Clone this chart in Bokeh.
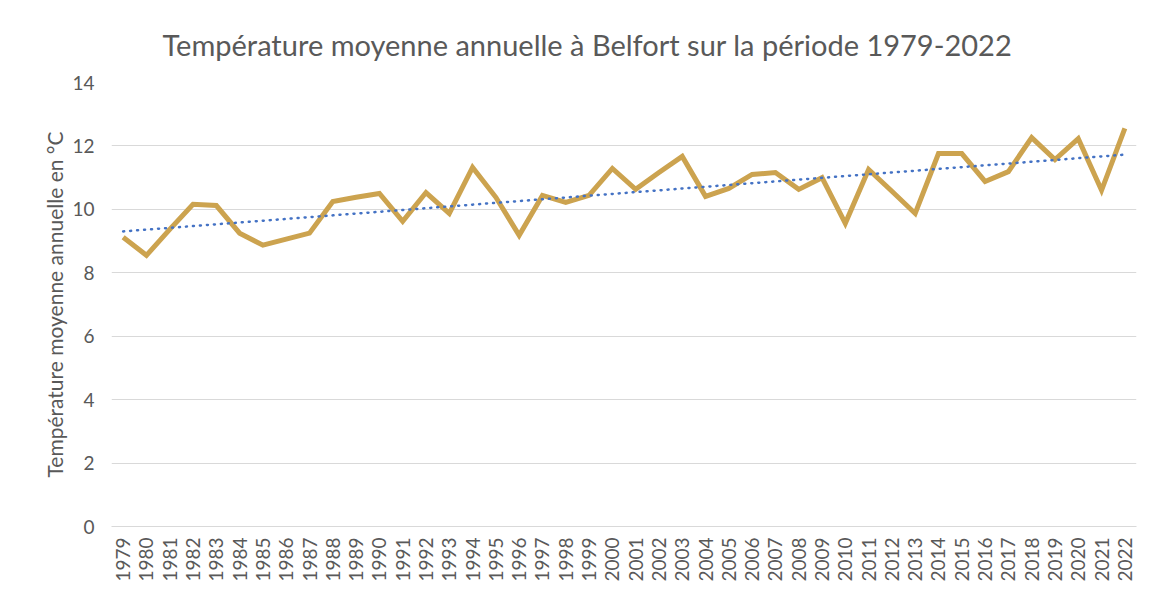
import math
import numpy as np
from bokeh.plotting import figure
from bokeh.models import FactorRange, Range1d, SingleIntervalTicker, ColumnDataSource
from bokeh.embed import file_html
from bokeh.resources import INLINE

years = [str(y) for y in range(1979, 2023)]
temps = [9.12, 8.55, 9.37, 10.16, 10.12, 9.25, 8.87, 9.06, 9.25, 10.25,
         10.38, 10.50, 9.62, 10.53, 9.87, 11.32, 10.38, 9.18, 10.44, 10.22,
         10.44, 11.29, 10.63, 11.16, 11.67, 10.41, 10.66, 11.10, 11.16, 10.63,
         11.00, 9.56, 11.26, 10.57, 9.87, 11.76, 11.76, 10.88, 11.19, 12.26,
         11.57, 12.23, 10.60, 12.55]

title_text = "Température moyenne annuelle à Belfort sur la période 1979-2022"
y_label = "Température moyenne annuelle en °C"

# linear trend (least squares, like Excel's linear trendline)
idx = np.arange(len(temps))
a, b = np.polyfit(idx, temps, 1)
trend = list(a * idx + b)

src = ColumnDataSource(dict(x=years, t=temps, tr=trend))

FONT = "Lato"
GREY = "#595959"

p = figure(width=1159, height=584, x_range=FactorRange(factors=years),
           y_range=Range1d(0, 14), output_backend="svg", toolbar_location=None,
           min_border_left=111, min_border_right=23, min_border_top=82,
           min_border_bottom=58)

p.title.text = title_text
p.title.align = "left"
p.title.text_font = FONT
p.title.text_font_size = "29px"
p.title.text_font_style = "normal"
p.title.text_color = GREY
p.title.offset = 51
p.title.standoff = 41

p.outline_line_color = None
p.xgrid.grid_line_color = None
p.ygrid.grid_line_color = "#d9d9d9"
p.ygrid.grid_line_width = 1.2

p.yaxis.ticker = SingleIntervalTicker(interval=2)
p.yaxis.axis_line_color = None
p.yaxis.major_tick_line_color = None
p.yaxis.minor_tick_line_color = None
p.yaxis.major_label_text_font = FONT
p.yaxis.major_label_text_font_size = "19px"
p.yaxis.major_label_text_color = GREY
p.yaxis.major_label_standoff = 11
p.yaxis.axis_label = y_label
p.yaxis.axis_label_text_font = FONT
p.yaxis.axis_label_text_font_size = "21px"
p.yaxis.axis_label_text_font_style = "normal"
p.yaxis.axis_label_text_color = GREY
p.yaxis.axis_label_standoff = 2

p.xaxis.axis_line_color = "#d9d9d9"
p.xaxis.axis_line_width = 1.2
p.xaxis.major_tick_line_color = None
p.xaxis.minor_tick_line_color = None
p.xaxis.major_label_orientation = math.pi / 2
p.xaxis.major_label_text_font = FONT
p.xaxis.major_label_text_font_size = "19px"
p.xaxis.major_label_text_color = GREY
p.xaxis.major_label_standoff = 5

p.line("x", "t", source=src, line_color="#cca34f", line_width=5,
       line_join="miter")
p.line("x", "tr", source=src, line_color="#4472c4", line_width=2.5,
       line_dash="1 6", line_cap="round")

open("out.html", "w").write(file_html(p, INLINE))
